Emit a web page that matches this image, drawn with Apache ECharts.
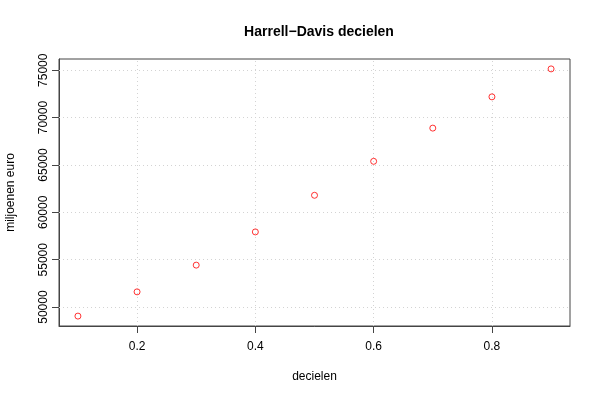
<!DOCTYPE html>
<html><head><meta charset="utf-8">
<script src="https://cdn.jsdelivr.net/npm/echarts@6/dist/echarts.min.js"></script>
<style>html,body{margin:0;padding:0;background:#fff}#c{width:600px;height:400px}</style>
</head><body><div id="c"></div>
<script>
const probs = [0.1,0.2,0.3,0.4,0.5,0.6,0.7,0.8,0.9];
const deciles = [49050,51610,54430,57935,61800,65385,68890,72190,75140];
const xTicks = [0.2,0.4,0.6,0.8];
const yTicks = [50000,55000,60000,65000,70000,75000];
const title = 'Harrell\u2212Davis decielen';
const xName = 'decielen';
const yName = 'miljoenen euro';

const font = 'Liberation Sans, Arial, Helvetica, sans-serif';
const xmin = 0.068, xmax = 0.932, ymin = 48006, ymax = 76184;
const grid = {color:'#d3d3d3', type:[1,3], width:1};
const chart = echarts.init(document.getElementById('c'), null, {renderer:'canvas'});
chart.setOption({
  animation:false,
  title:{text:title, left:314, top:20, textAlign:'center',
    textStyle:{fontFamily:font, fontSize:14, fontWeight:'bold', color:'#000'}},
  grid:{left:59, right:30, top:59, bottom:74, containLabel:false, outerBoundsMode:'none',
    show:true, borderColor:'#444', borderWidth:1, backgroundColor:'transparent'},
  xAxis:{type:'value', min:xmin, max:xmax,
    name:xName, nameLocation:'middle', nameGap:45,
    nameTextStyle:{fontFamily:font, fontSize:12, color:'#000'},
    axisLine:{show:true, lineStyle:{color:'#444'}},
    axisTick:{show:true, length:7, inside:false, customValues:xTicks, lineStyle:{color:'#444'}},
    axisLabel:{customValues:xTicks, fontFamily:font, fontSize:12, color:'#000', margin:15,
      formatter:v=>String(+v.toFixed(1))},
    splitLine:{show:false}},
  yAxis:{type:'value', min:ymin, max:ymax,
    name:yName, nameLocation:'middle', nameGap:42,
    nameTextStyle:{fontFamily:font, fontSize:12, color:'#000'},
    axisLine:{show:true, lineStyle:{color:'#444'}},
    axisTick:{show:true, length:7, inside:false, customValues:yTicks, lineStyle:{color:'#444'}},
    axisLabel:{customValues:yTicks, fontFamily:font, fontSize:12, color:'#000', rotate:90, margin:15,
      verticalAlign:'middle', align:'center', formatter:v=>String(Math.round(v))},
    splitLine:{show:false}},
  series:[{
    type:'scatter',
    data:probs.map((p,i)=>[p,deciles[i]]),
    symbol:'circle', symbolSize:6,
    itemStyle:{color:'rgba(0,0,0,0)', borderColor:'#ff0000', borderWidth:1},
    z:5,
    markLine:{silent:true, symbol:['none','none'], label:{show:false}, lineStyle:grid,
      data:[...xTicks.map(v=>({xAxis:v})), ...yTicks.map(v=>({yAxis:v}))],
      animation:false}
  }]
});
</script></body></html>
